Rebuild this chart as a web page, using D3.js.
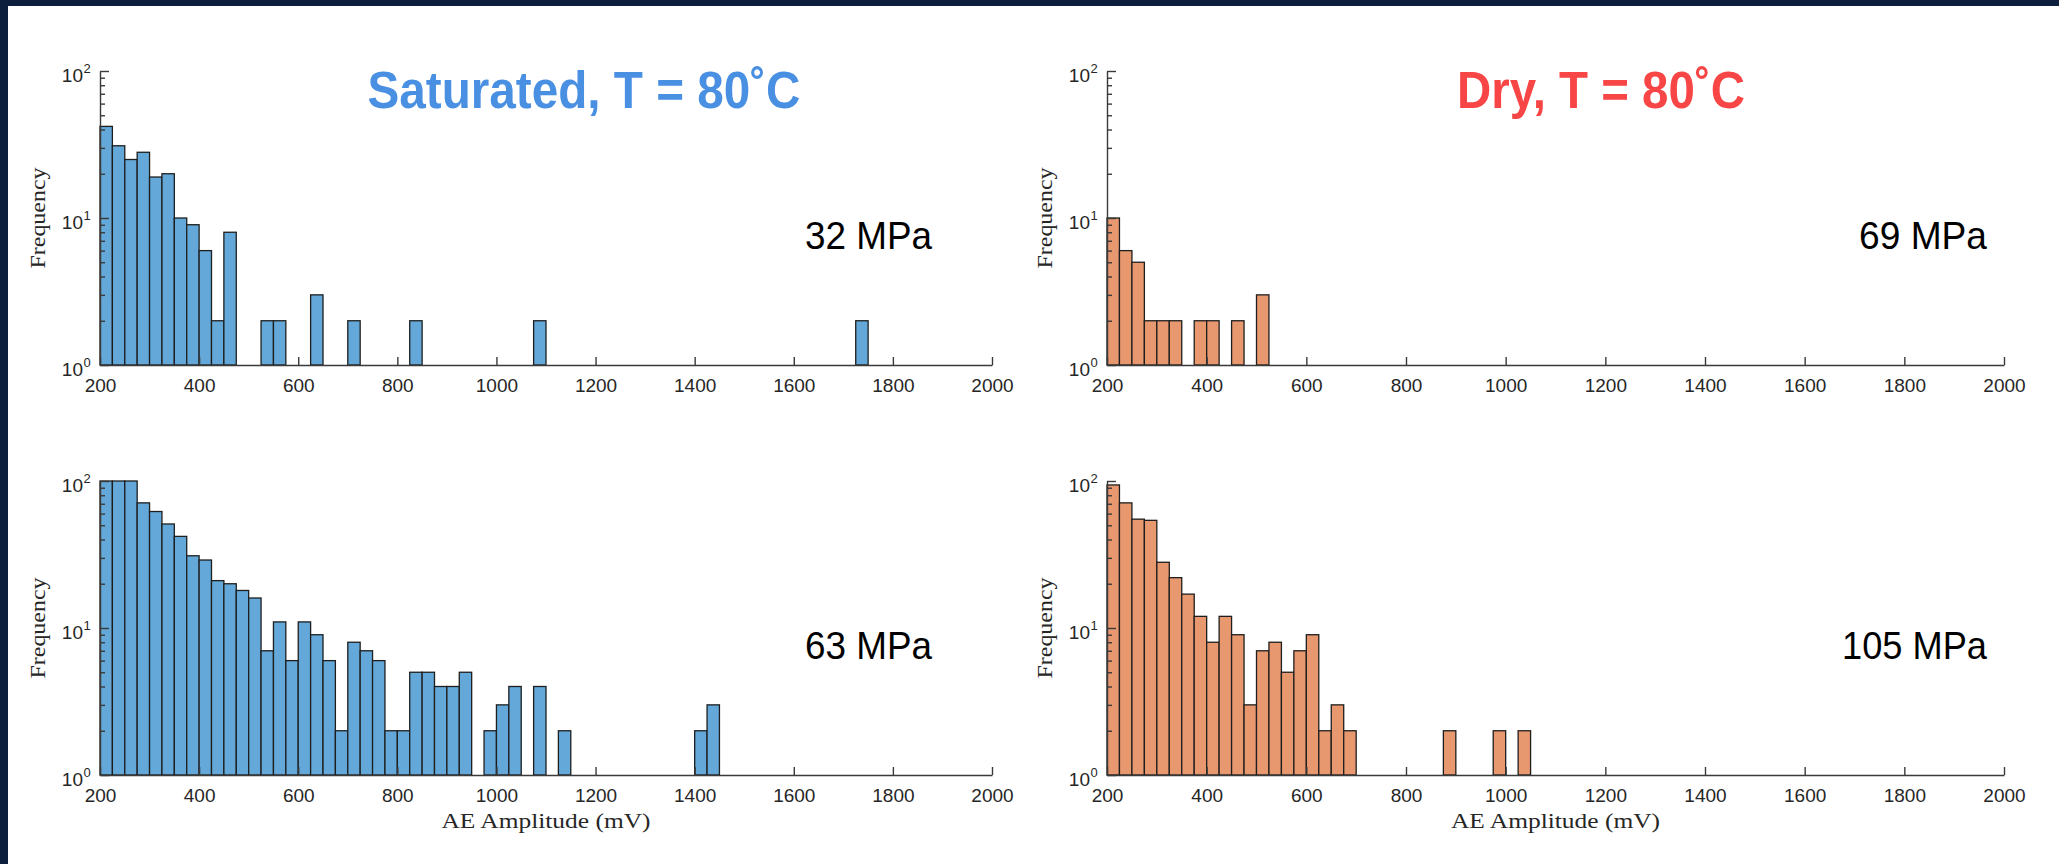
<!DOCTYPE html>
<html>
<head>
<meta charset="utf-8">
<script src="https://cdn.jsdelivr.net/npm/d3@7"></script>
<style>
html, body { margin: 0; padding: 0; background: #0c1f3c; }
svg { display: block; }
</style>
</head>
<body>
<svg id="chart" width="2059" height="864"></svg>
<script>
// histogram bins: 25 mV wide starting at 200 mV
var binStart = 200;
var binWidth = 25;
var xTicks = [200, 400, 600, 800, 1000, 1200, 1400, 1600, 1800, 2000];
var yTicks = [1, 10, 100];
var yMinor = [2, 3, 4, 5, 6, 7, 8, 9, 20, 30, 40, 50, 60, 70, 80, 90];

// counts per bin, trailing empty bins left out
var sat32 = [42, 31, 25, 28, 19, 20, 10, 9, 6, 2, 8, 0, 0, 2, 2, 0, 0, 3, 0, 0,
             2, 0, 0, 0, 0, 2, 0, 0, 0, 0, 0, 0, 0, 0, 0, 2, 0, 0, 0, 0,
             0, 0, 0, 0, 0, 0, 0, 0, 0, 0, 0, 0, 0, 0, 0, 0, 0, 0, 0, 0,
             0, 2];
var dry69 = [10, 6, 5, 2, 2, 2, 0, 2, 2, 0, 2, 0, 3];
var sat63 = [100, 100, 100, 71, 62, 51, 42, 31, 29, 21, 20, 18, 16, 7, 11, 6, 11, 9, 6, 2,
             8, 7, 6, 2, 2, 5, 5, 4, 4, 5, 0, 2, 3, 4, 0, 4, 0, 2, 0, 0,
             0, 0, 0, 0, 0, 0, 0, 0, 2, 3];
var dry105 = [94, 71, 55, 54, 28, 22, 17, 12, 8, 12, 9, 3, 7, 8, 5, 7, 9, 2, 3, 2,
              0, 0, 0, 0, 0, 0, 0, 2, 0, 0, 0, 2, 0, 2];

var titles = ["Saturated, T = 80\u02DAC", "Dry, T = 80\u02DAC"];
var pressures = ["32 MPa", "69 MPa", "63 MPa", "105 MPa"];

var blue = "#63a8d8";
var orange = "#e8986f";
var axisColor = "#3a3a3a";
var sans = "Liberation Sans, Arial, Helvetica, sans-serif";
var serif = "Liberation Serif, Times New Roman, serif";

var svg = d3.select("#chart");

svg.append("rect")
	.attr("x", 8)
	.attr("y", 6)
	.attr("width", 2051)
	.attr("height", 858)
	.attr("fill", "#ffffff");

function drawPanel(counts, fill, box, label, withXLabel) {
	var x = d3.scaleLinear().domain([200, 2000]).range([box.x0, box.x1]);
	var y = d3.scaleLog().domain([1, 100]).range([box.y1, box.y0]).clamp(true);
	var g = svg.append("g");

	var bins = counts.map(function (c, i) {
		return { a: binStart + i * binWidth, b: binStart + (i + 1) * binWidth, n: c };
	}).filter(function (d) { return d.n > 1; });

	g.selectAll("rect.bar").data(bins).enter().append("rect")
		.attr("class", "bar")
		.attr("x", function (d) { return x(d.a); })
		.attr("width", function (d) { return x(d.b) - x(d.a); })
		.attr("y", function (d) { return y(d.n); })
		.attr("height", function (d) { return box.y1 - y(d.n); })
		.attr("fill", fill)
		.attr("stroke", "#1e1e1e")
		.attr("stroke-width", 1.3);

	// x axis, ticks pointing inward like matlab
	var xa = g.append("g")
		.attr("transform", "translate(0," + box.y1 + ")")
		.call(d3.axisBottom(x).tickValues(xTicks).tickFormat(d3.format("d"))
			.tickSizeInner(-8).tickSizeOuter(0).tickPadding(14));
	xa.selectAll("text")
		.attr("font-family", sans)
		.attr("font-size", 19)
		.attr("fill", "#262626");

	// y axis, log scale
	g.append("g")
		.attr("transform", "translate(" + box.x0 + ",0)")
		.call(d3.axisLeft(y).tickValues(yTicks).tickSizeInner(-9).tickSizeOuter(0).tickFormat(""));
	var ym = g.append("g")
		.attr("transform", "translate(" + box.x0 + ",0)")
		.call(d3.axisLeft(y).tickValues(yMinor).tickSize(-5).tickFormat(""));
	ym.select(".domain").remove();

	g.selectAll(".domain, .tick line")
		.attr("stroke", axisColor)
		.attr("stroke-width", 1.4);

	yTicks.forEach(function (t) {
		var ty = y(t);
		g.append("text")
			.attr("x", box.x0 - 17)
			.attr("y", ty + 11)
			.attr("text-anchor", "end")
			.attr("font-family", sans)
			.attr("font-size", 19)
			.attr("fill", "#262626")
			.text("10");
		g.append("text")
			.attr("x", box.x0 - 16.5)
			.attr("y", ty + 2)
			.attr("font-family", sans)
			.attr("font-size", 13)
			.attr("fill", "#262626")
			.text(Math.round(Math.log10(t)));
	});

	var midY = (box.y0 + box.y1) / 2;
	g.append("text")
		.attr("transform", "translate(" + (box.x0 - 55) + "," + midY + ") rotate(-90)")
		.attr("text-anchor", "middle")
		.attr("font-family", serif)
		.attr("font-size", 21)
		.attr("textLength", 101)
		.attr("lengthAdjust", "spacingAndGlyphs")
		.attr("fill", "#262626")
		.text("Frequency");

	if (withXLabel) {
		g.append("text")
			.attr("x", (box.x0 + box.x1) / 2)
			.attr("y", box.y1 + 53)
			.attr("text-anchor", "middle")
			.attr("font-family", serif)
			.attr("font-size", 21)
			.attr("textLength", 209)
			.attr("lengthAdjust", "spacingAndGlyphs")
			.attr("fill", "#262626")
			.text("AE Amplitude (mV)");
	}

	g.append("text")
		.attr("x", box.labelX)
		.attr("y", box.y0 + 178)
		.attr("text-anchor", "end")
		.attr("font-family", sans)
		.attr("font-size", 39)
		.attr("textLength", box.labelW)
		.attr("lengthAdjust", "spacingAndGlyphs")
		.attr("fill", "#000000")
		.text(label);
}

drawPanel(sat32, blue, { x0: 100, x1: 992, y0: 71, y1: 365, labelX: 932, labelW: 127 }, pressures[0], false);
drawPanel(dry69, orange, { x0: 1107, x1: 2004, y0: 71, y1: 365, labelX: 1987, labelW: 128 }, pressures[1], false);
drawPanel(sat63, blue, { x0: 100, x1: 992, y0: 481, y1: 775, labelX: 932, labelW: 127 }, pressures[2], true);
drawPanel(dry105, orange, { x0: 1107, x1: 2004, y0: 481, y1: 775, labelX: 1987, labelW: 145 }, pressures[3], true);

svg.append("text")
	.attr("x", 584)
	.attr("y", 108)
	.attr("text-anchor", "middle")
	.attr("font-family", sans)
	.attr("font-weight", "bold")
	.attr("font-size", 51)
	.attr("textLength", 433)
	.attr("lengthAdjust", "spacingAndGlyphs")
	.attr("fill", "#4a90e2")
	.text(titles[0]);

svg.append("text")
	.attr("x", 1601)
	.attr("y", 108)
	.attr("text-anchor", "middle")
	.attr("font-family", sans)
	.attr("font-weight", "bold")
	.attr("font-size", 51)
	.attr("textLength", 288)
	.attr("lengthAdjust", "spacingAndGlyphs")
	.attr("fill", "#f84545")
	.text(titles[1]);
</script>
</body>
</html>
